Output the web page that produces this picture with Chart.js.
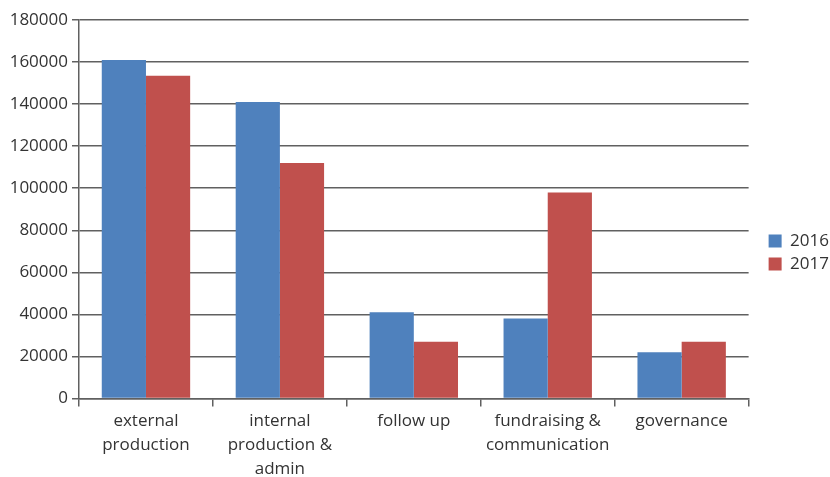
<!DOCTYPE html>
<html>
<head>
<meta charset="utf-8">
<script src="https://cdn.jsdelivr.net/npm/chart.js@4/dist/chart.umd.min.js"></script>
<style>
  html, body { margin: 0; padding: 0; background: #fff; }
  #wrap { width: 830px; height: 477px; }
</style>
</head>
<body>
<div id="wrap"><canvas id="myChart"></canvas></div>
<script>
const categories = [
  ['external', 'production'],
  ['internal', 'production &', 'admin'],
  ['follow up'],
  ['fundraising &', 'communication'],
  ['governance']
];
const values2016 = [161000, 141000, 41000, 38000, 22000];
const values2017 = [153500, 112000, 27000, 98000, 27000];
const seriesNames = ['2016', '2017'];

const gridColor = '#606060';
const textColor = '#333333';
const fontFamily = '"Open Sans", "Liberation Sans", sans-serif';

// move the legend a bit to the right and down, like the original
const legendShift = {
  id: 'legendShift',
  afterLayout(chart) {
    const lg = chart.legend;
    lg.left += 14; lg.right += 14;
    lg.top += 4; lg.bottom += 4;
  }
};

const config = {
  type: 'bar',
  data: {
    labels: categories,
    datasets: [{
      label: seriesNames[0],
      data: values2016,
      backgroundColor: '#4F81BD'
    }, {
      label: seriesNames[1],
      data: values2017,
      backgroundColor: '#C0504D'
    }]
  },
  options: {
    responsive: true,
    maintainAspectRatio: false,
    animation: false,
    datasets: {
      bar: { categoryPercentage: 0.66, barPercentage: 1.0 }
    },
    layout: { padding: { top: 20, right: 5, bottom: 0, left: 0 } },
    plugins: {
      tooltip: { enabled: false },
      legend: {
        position: 'right',
        labels: {
          boxWidth: 13,
          boxHeight: 13,
          padding: 6,
          color: textColor,
          font: { family: fontFamily, size: 17, lineHeight: 1.0 }
        }
      }
    },
    scales: {
      x: {
        afterFit(scale) { scale.height = 78.5; },
        grid: {
          drawOnChartArea: false,
          drawTicks: true,
          tickLength: 8,
          color: gridColor,
          lineWidth: 1.5
        },
        border: { color: gridColor, width: 1.5 },
        ticks: {
          color: textColor,
          padding: 3,
          maxRotation: 0,
          font: { family: fontFamily, size: 17, lineHeight: 1.41 }
        }
      },
      y: {
        min: 0,
        max: 180000,
        afterFit(scale) { scale.width = 79; },
        grid: {
          color: gridColor,
          lineWidth: 1.5,
          drawTicks: true,
          tickLength: 7
        },
        border: { color: gridColor, width: 1.5 },
        ticks: {
          stepSize: 20000,
          color: textColor,
          padding: 4,
          font: { family: fontFamily, size: 17 },
          callback: (v) => String(v)
        }
      }
    }
  },
  plugins: [legendShift]
};

const myChart = new Chart(document.getElementById('myChart'), config);
</script>
</body>
</html>
